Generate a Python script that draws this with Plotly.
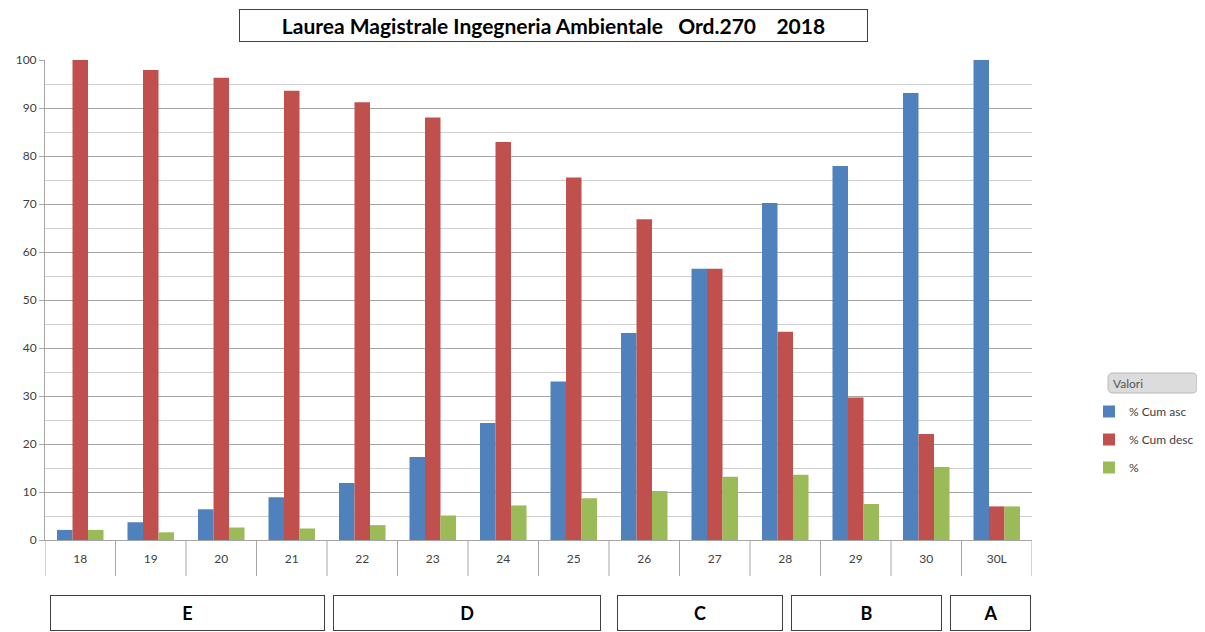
import plotly.graph_objects as go

# ---- data ----
categories = ["18", "19", "20", "21", "22", "23", "24", "25", "26", "27", "28", "29", "30", "30L"]
cum_asc = [2.1, 3.7, 6.4, 8.9, 11.9, 17.3, 24.4, 33.0, 43.1, 56.5, 70.2, 77.9, 93.1, 100.0]
cum_desc = [100.0, 97.9, 96.3, 93.6, 91.2, 88.0, 82.9, 75.5, 66.8, 56.5, 43.4, 29.7, 22.1, 7.0]
pct = [2.1, 1.6, 2.6, 2.4, 3.1, 5.1, 7.2, 8.7, 10.2, 13.2, 13.6, 7.5, 15.2, 7.0]
series_names = ["% Cum asc", "% Cum desc", "%"]
grade_letters = ["E", "D", "C", "B", "A"]
title_text = "Laurea Magistrale Ingegneria Ambientale\u00a0\u00a0\u00a0Ord.270\u00a0\u00a0\u00a0\u00a02018"
legend_title = "Valori"

# ---- layout helpers (screen-pixel geometry; page body has an 8px margin) ----
OFF = 8
W, H = 1205 - OFF, 632 - OFF
L, R, T, B = 45, 1032, 60, 540   # plot area in screen pixels
def px(x):
    return (x - L) / (R - L)
def py(y):
    return (B - y) / (B - T)

colors = ["#4F81BD", "#C0504D", "#9BBB59"]
FONT = "Lato"

fig = go.Figure()
for i, (name, vals) in enumerate(zip(series_names, [cum_asc, cum_desc, pct])):
    fig.add_trace(go.Bar(x=categories, y=vals, name=name, marker_color=colors[i],
                         marker_line_width=0, legendgroup=name))

shapes = []
# category boundary ticks extending below the axis
for i in range(len(categories) + 1):
    shapes.append(dict(type="line", xref="x", yref="paper", x0=i - 0.5, x1=i - 0.5,
                       y0=0, y1=py(576), line=dict(color="#a6a6a6", width=1)))

# legend header rounded box
x0, x1, y0, y1, r = 1108, 1197, 373, 393, 5
path = (f"M {px(x0 + r)},{py(y0)} L {px(x1 - r)},{py(y0)} Q {px(x1)},{py(y0)} {px(x1)},{py(y0 + r)} "
        f"L {px(x1)},{py(y1 - r)} Q {px(x1)},{py(y1)} {px(x1 - r)},{py(y1)} "
        f"L {px(x0 + r)},{py(y1)} Q {px(x0)},{py(y1)} {px(x0)},{py(y1 - r)} "
        f"L {px(x0)},{py(y0 + r)} Q {px(x0)},{py(y0)} {px(x0 + r)},{py(y0)} Z")
shapes.append(dict(type="path", xref="paper", yref="paper", path=path,
                   fillcolor="#dcdcdc", line=dict(color="#b8b8b8", width=1)))

annotations = []
annotations.append(dict(text=f"<b>{title_text}</b>", xref="paper", yref="paper",
                        x=px(553.5), y=py(25.5), xanchor="center", yanchor="middle",
                        showarrow=False, font=dict(family=FONT, size=21, color="#000"),
                        width=625, height=29, borderpad=1, bordercolor="#404040",
                        borderwidth=1, bgcolor="white"))
annotations.append(dict(text=legend_title, xref="paper", yref="paper",
                        x=px(1111), y=py(383), xanchor="left", yanchor="middle",
                        showarrow=False, font=dict(family=FONT, size=12, color="#555")))

# grade boxes: (left px, right px)
box_px = [(50, 325), (333, 601), (617, 783), (791, 942), (950, 1031)]
for letter, (a, b) in zip(grade_letters, box_px):
    annotations.append(dict(text=f"<b>{letter}</b>", xref="paper", yref="paper",
                            x=px((a + b) / 2), y=py(613), xanchor="center", yanchor="middle",
                            showarrow=False, font=dict(family=FONT, size=18, color="#000"),
                            width=b - a - 4, height=32, borderpad=1, bordercolor="#404040",
                            borderwidth=1))

fig.update_layout(
    width=W, height=H,
    margin=dict(l=L - OFF, r=W - (R - OFF), t=T - OFF, b=H - (B - OFF), pad=0, autoexpand=False),
    paper_bgcolor="white", plot_bgcolor="white",
    barmode="group", bargap=0.34, bargroupgap=0,
    font=dict(family=FONT, size=12, color="#404040"),
    showlegend=True,
    legend=dict(x=px(1089), y=py(397), xanchor="left", yanchor="top",
                font=dict(family=FONT, size=12, color="#404040"),
                tracegroupgap=9, bgcolor="rgba(0,0,0,0)", itemwidth=30),
    shapes=shapes, annotations=annotations,
    xaxis=dict(type="category", range=[-0.5, len(categories) - 0.5], showgrid=False,
               showline=True, linecolor="#a6a6a6", linewidth=1,
               ticks="outside", ticklen=8, tickcolor="rgba(0,0,0,0)",
               tickfont=dict(family=FONT, size=12, color="#404040"), fixedrange=True),
    yaxis=dict(range=[0, 100], dtick=10, tick0=0, showgrid=True, gridcolor="#a6a6a6", gridwidth=1,
               minor=dict(dtick=5, showgrid=True, gridcolor="#d0d0d0", gridwidth=1),
               showline=True, linecolor="#a6a6a6", linewidth=1,
               ticks="outside", ticklen=5, tickcolor="#a6a6a6",
               tickfont=dict(family=FONT, size=12, color="#404040"), zeroline=False,
               fixedrange=True),
)

fig.write_html("out.html")
